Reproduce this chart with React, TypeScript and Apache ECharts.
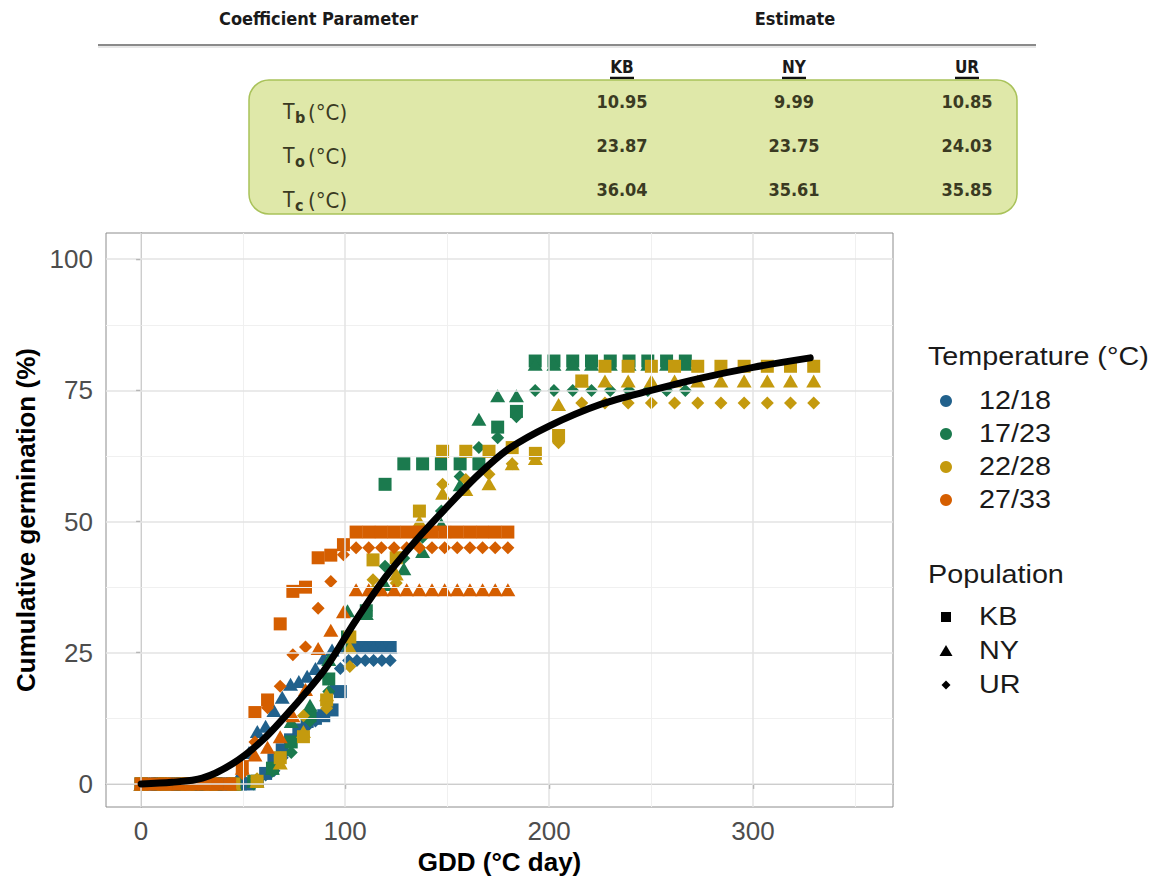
import React, { useEffect, useRef } from "react";
import * as echarts from "echarts";

// ---------- data ----------
const tempLabels = ["12/18", "17/23", "22/28", "27/33"];
const tempColors = ["#21618C", "#1B7A4E", "#C49A0E", "#D55E00"];
const popLabels = ["KB", "NY", "UR"];

// GDD (°C day) of each daily count, per temperature regime
const gddT1 = [0, 4.07, 8.14, 12.21, 16.28, 20.35, 24.42, 28.49, 32.56, 36.63, 40.7, 44.77, 48.84, 52.91, 56.98, 61.05, 65.12, 69.19, 73.26, 77.33, 81.4, 85.47, 89.54, 93.61, 97.68, 101.75, 105.82, 109.89, 113.96, 118.03, 122.1];
const gddT2 = [0, 9.2, 18.4, 27.6, 36.8, 46, 55.2, 64.4, 73.6, 82.8, 92, 101.2, 110.4, 119.6, 128.8, 138, 147.2, 156.4, 165.6, 174.8, 184, 193.2, 202.4, 211.6, 220.8, 230, 239.2, 248.4, 257.6, 266.8];
const gddT3 = [0, 11.37, 22.74, 34.11, 45.48, 56.85, 68.22, 79.59, 90.96, 102.33, 113.7, 125.07, 136.44, 147.81, 159.18, 170.55, 181.92, 193.29, 204.66, 216.03, 227.4, 238.77, 250.14, 261.51, 272.88, 284.25, 295.62, 306.99, 318.36, 329.73];
const gddT4 = [0, 6.2, 12.4, 18.6, 24.8, 31, 37.2, 43.4, 49.6, 55.8, 62, 68.2, 74.4, 80.6, 86.8, 93, 99.2, 105.4, 111.6, 117.8, 124, 130.2, 136.4, 142.6, 148.8, 155, 161.2, 167.4, 173.6, 179.8];

// cumulative germination (%)
const t1KB = [0, 0, 0, 0, 0, 0, 0, 0, 0, 0, 0, 0, 0, 0, 0.5, 2, 4.6, 6.5, 8.4, 10.3, 11.9, 12.5, 13, 14.1, 17.6, 26, 26, 26, 26, 26, 26];
const t1NY = [0, 0, 0, 0, 0, 0, 0, 0, 0, 0, 0, 0, 2, 6, 10, 11, 14, 16.5, 19, 19.5, 20.5, 22, 24, 25.5, 26, 26, 26, 26, 26, 26, 26];
const t1UR = [0, 0, 0, 0, 0, 0, 0, 0, 0, 0, 0, 0, 0, 0, 0.8, 1.7, 2.5, 5, 8, 9.5, 11, 12, 13.5, 18, 22, 23.5, 23.5, 23.5, 23.5, 23.5, 23.5];

const t2KB = [0, 0, 0, 0, 0, 0, 0.5, 3, 8, 13, 20, 28, 33, 57.1, 61, 61, 61, 61, 61, 68, 71, 80.6, 80.6, 80.6, 80.6, 80.6, 80.6, 80.6, 80.6, 80.6];
const t2NY = [0, 0, 0, 0, 0, 0, 0.5, 3, 11.9, 15, 23.7, 33, 32.5, 38, 41, 44.3, 49.5, 57, 69.5, 74, 74, 80, 80, 80, 80, 80, 80, 80, 80, 80];
const t2UR = [0, 0, 0, 0, 0, 0, 0, 2.4, 6, 12, 17.6, 26, 33, 41.5, 43, 47, 52, 58.6, 64.1, 66, 70, 75, 75, 75, 75, 75, 75, 75, 75, 75];

const t3KB = [0, 0, 0, 0, 0, 0.5, 5, 9, 16, 28, 42.7, 43.1, 52, 63.4, 63.4, 63.4, 64.1, 63, 66.4, 76.8, 79.6, 79.6, 79.6, 79.6, 79.6, 79.6, 79.6, 79.6, 79.6, 79.6];
const t3NY = [0, 0, 0, 0, 0, 0.5, 4, 10, 17, 26, 37, 40, 50, 55.4, 56.1, 57.2, 61, 62, 72.3, 76.8, 76.8, 76.8, 76.8, 76.8, 76.8, 76.8, 76.8, 76.8, 76.8, 76.8];
const t3UR = [0, 0, 0, 0, 0, 1, 5, 13, 14.4, 22.4, 38.9, 38.3, 45, 57.1, 58, 59, 61, 62.8, 65, 72.6, 72.6, 72.6, 72.6, 72.6, 72.6, 72.6, 72.6, 72.6, 72.6, 72.6];

const t4KB = [0, 0, 0, 0, 0, 0, 0, 0, 3.3, 13.6, 16, 30.5, 36.7, 37.5, 43.1, 43.6, 45.6, 48, 48, 48, 48, 48, 48, 48, 48, 48, 48, 48, 48, 48];
const t4NY = [0, 0, 0, 0, 0, 0, 0, 0, 3, 5.5, 7, 9, 13, 18, 25.8, 29.3, 32.8, 37, 37, 37, 37, 37, 37, 37, 37, 37, 37, 37, 37, 37];
const t4UR = [0, 0, 0, 0, 0, 0, 0, 0, 2, 8, 14.5, 18.6, 24.6, 26.1, 33.5, 38.6, 43.7, 45, 45, 45, 45, 45, 45, 45, 45, 45, 45, 45, 45, 45];

// fitted model curve
const fitX = [0, 15, 30, 45, 60, 75, 90, 105, 120, 135, 150, 165, 180, 200, 225, 250, 275, 300, 328];
const fitY = [0, 0.3, 1.1, 3.9, 8.5, 14.8, 21.8, 31, 39.5, 46.5, 52.8, 58.8, 63.8, 68.2, 72.3, 75, 77.4, 79.4, 81.2];

// axis ticks
const xTicks = [0, 100, 200, 300];
const xMinor = [50, 150, 250, 350];
const yTicks = [0, 25, 50, 75, 100];
const yMinor = [12.5, 37.5, 62.5, 87.5];

// parameter table
const tableCols = ["KB", "NY", "UR"];
const tableRowSubs = ["b", "o", "c"];
const tableValues = [
  ["10.95", "9.99", "10.85"],
  ["23.87", "23.75", "24.03"],
  ["36.04", "35.61", "35.85"],
];

const gddByTemp = [gddT1, gddT2, gddT3, gddT4];
const yByTemp = [
  [t1KB, t1NY, t1UR],
  [t2KB, t2NY, t2UR],
  [t3KB, t3NY, t3UR],
  [t4KB, t4NY, t4UR],
];

// ---------- styling ----------
const popSymbols = ["rect", "triangle", "diamond"];
const popSizes: any[] = [13, [15, 13], 13];
const tableFont = '"Liberation Sans Narrow", "DejaVu Sans Condensed", sans-serif';
const plotFont = '"Liberation Sans", Arial, sans-serif';

export default function App() {
  const ref = useRef<HTMLDivElement>(null);

  useEffect(() => {
    if (!ref.current) return;
    const chart = echarts.init(ref.current, undefined, { renderer: "svg" });

    const scatterSeries: any[] = [];
    gddByTemp.forEach((xs, ti) => {
      yByTemp[ti].forEach((ys, pi) => {
        scatterSeries.push({
          type: "scatter",
          name: tempLabels[ti] + " " + popLabels[pi],
          data: xs.map((x, i) => [x, ys[i]]),
          symbol: popSymbols[pi],
          symbolSize: popSizes[pi],
          itemStyle: { color: tempColors[ti], opacity: 1 },
          z: 3,
          silent: true,
        });
      });
    });

    const gridSeries = {
      type: "line",
      data: [],
      z: 1,
      silent: true,
      markLine: {
        silent: true,
        symbol: ["none", "none"],
        label: { show: false },
        animation: false,
        data: [
          ...xMinor.map((v) => ({ xAxis: v, lineStyle: { color: "#F0F0F0", width: 1, type: "solid" } })),
          ...yMinor.map((v) => ({ yAxis: v, lineStyle: { color: "#F0F0F0", width: 1, type: "solid" } })),
          ...xTicks.map((v) => ({ xAxis: v, lineStyle: { color: "#E3E3E3", width: 1.5, type: "solid" } })),
          ...yTicks.map((v) => ({ yAxis: v, lineStyle: { color: "#E3E3E3", width: 1.5, type: "solid" } })),
        ],
      },
    };

    const fitSeries = {
      type: "line",
      data: fitX.map((x, i) => [x, fitY[i]]),
      smooth: 0.3,
      showSymbol: false,
      symbol: "none",
      lineStyle: { color: "#000", width: 7, cap: "round" },
      z: 5,
      silent: true,
    };

    const graphics: any[] = [];
    // table header
    graphics.push({
      type: "text", x: 219, y: 18,
      style: { text: "Coefficient Parameter", font: "bold 18px " + tableFont, fill: "#1a1a1a", textVerticalAlign: "middle" },
    });
    graphics.push({
      type: "text", x: 795, y: 18,
      style: { text: "Estimate", font: "bold 18px " + tableFont, fill: "#1a1a1a", textAlign: "center", textVerticalAlign: "middle" },
    });
    graphics.push({ type: "line", shape: { x1: 98, y1: 45, x2: 1036, y2: 45 }, style: { stroke: "#8a8a8a", lineWidth: 2 } });
    graphics.push({ type: "line", shape: { x1: 98, y1: 47, x2: 1036, y2: 47 }, style: { stroke: "#d0d0d0", lineWidth: 1 } });
    const colX = [622, 794, 967];
    tableCols.forEach((c, i) => {
      graphics.push({
        type: "text", x: colX[i], y: 67,
        style: { text: c, font: "bold 17px " + tableFont, fill: "#1a1a1a", textAlign: "center", textVerticalAlign: "middle" },
      });
      graphics.push({ type: "line", shape: { x1: colX[i] - 12, y1: 78, x2: colX[i] + 12, y2: 78 }, style: { stroke: "#111", lineWidth: 2.5 } });
    });
    graphics.push({
      type: "rect", shape: { x: 249, y: 80, width: 768, height: 134, r: 20 },
      style: { fill: "#DFE8A9", stroke: "#A9C25A", lineWidth: 1.5 },
    });
    const rowY = [101, 145, 189];
    tableRowSubs.forEach((s, r) => {
      graphics.push({
        type: "text", x: 283, y: rowY[r] + 11,
        style: { text: "T", font: "21px " + tableFont, fill: "#3a3a22", textVerticalAlign: "middle" },
      });
      graphics.push({
        type: "text", x: 295, y: rowY[r] + 16,
        style: { text: s, font: "bold 16px " + tableFont, fill: "#3a3a22", textVerticalAlign: "middle" },
      });
      graphics.push({
        type: "text", x: 308, y: rowY[r] + 11,
        style: { text: "(°C)", font: "22px " + tableFont, fill: "#3a3a22", textVerticalAlign: "middle" },
      });
      tableValues[r].forEach((v, c) => {
        graphics.push({
          type: "text", x: colX[c], y: rowY[r],
          style: { text: v, font: "bold 18px " + tableFont, fill: "#3a3a22", textAlign: "center", textVerticalAlign: "middle" },
        });
      });
    });

    // legends
    const lgFont = "25px " + plotFont;
    const lgScale = 1.15;
    graphics.push({
      type: "text", x: 928, y: 357, scaleX: lgScale,
      style: { text: "Temperature (°C)", font: lgFont, fill: "#1a1a1a", textVerticalAlign: "middle" },
    });
    const tempY = [401, 434, 467, 500];
    tempLabels.forEach((t, i) => {
      graphics.push({ type: "circle", shape: { cx: 946, cy: tempY[i], r: 6 }, style: { fill: tempColors[i] } });
      graphics.push({
        type: "text", x: 979, y: tempY[i], scaleX: lgScale,
        style: { text: t, font: lgFont, fill: "#1a1a1a", textVerticalAlign: "middle" },
      });
    });
    graphics.push({
      type: "text", x: 928, y: 575, scaleX: lgScale,
      style: { text: "Population", font: lgFont, fill: "#1a1a1a", textVerticalAlign: "middle" },
    });
    const popY = [617, 651, 685];
    graphics.push({ type: "rect", shape: { x: 941, y: popY[0] - 5, width: 10, height: 10 }, style: { fill: "#000" } });
    graphics.push({ type: "polygon", shape: { points: [[946, popY[1] - 6], [952.5, popY[1] + 5], [939.5, popY[1] + 5]] }, style: { fill: "#000" } });
    graphics.push({ type: "polygon", shape: { points: [[946, popY[2] - 4.5], [950.5, popY[2]], [946, popY[2] + 4.5], [941.5, popY[2]]] }, style: { fill: "#000" } });
    popLabels.forEach((p, i) => {
      graphics.push({
        type: "text", x: 979, y: popY[i], scaleX: lgScale,
        style: { text: p, font: lgFont, fill: "#1a1a1a", textVerticalAlign: "middle" },
      });
    });

    chart.setOption({
      animation: false,
      backgroundColor: "#fff",
      grid: {
        left: 106, top: 233, width: 787, height: 574,
        containLabel: false,
        outerBoundsMode: "none",
        show: true, borderColor: "#8c8c8c", borderWidth: 1, backgroundColor: "#fff",
      },
      xAxis: {
        type: "value",
        min: -17.2,
        max: 368.6,
        name: "GDD (°C day)",
        nameLocation: "middle",
        nameGap: 38,
        nameTextStyle: { fontSize: 26, fontWeight: "bold", color: "#000", fontFamily: plotFont },
        axisLine: { show: true, lineStyle: { color: "#8c8c8c", width: 1 } },
        axisTick: { show: true, inside: false, length: 5, customValues: xTicks, lineStyle: { color: "#333", width: 1.2 } },
        axisLabel: { customValues: xTicks, fontSize: 26, color: "#4D4D4D", margin: 11, fontFamily: plotFont },
        splitLine: { show: false },
      },
      yAxis: {
        type: "value",
        min: -4.4,
        max: 105,
        name: "Cumulative germination (%)",
        nameLocation: "middle",
        nameGap: 63,
        nameRotate: 90,
        nameTextStyle: { fontSize: 26, fontWeight: "bold", color: "#000", fontFamily: plotFont },
        axisLine: { show: true, lineStyle: { color: "#8c8c8c", width: 1 } },
        axisTick: { show: true, inside: false, length: 5, customValues: yTicks, lineStyle: { color: "#333", width: 1.2 } },
        axisLabel: { customValues: yTicks, fontSize: 26, color: "#4D4D4D", margin: 13, fontFamily: plotFont },
        splitLine: { show: false },
      },
      series: [gridSeries, ...scatterSeries, fitSeries],
      graphic: graphics,
    });

    return () => chart.dispose();
  }, []);

  return (
    <div
      ref={ref}
      style={{ position: "fixed", left: 0, top: 0, width: 1157, height: 876, background: "#fff" }}
    />
  );
}
